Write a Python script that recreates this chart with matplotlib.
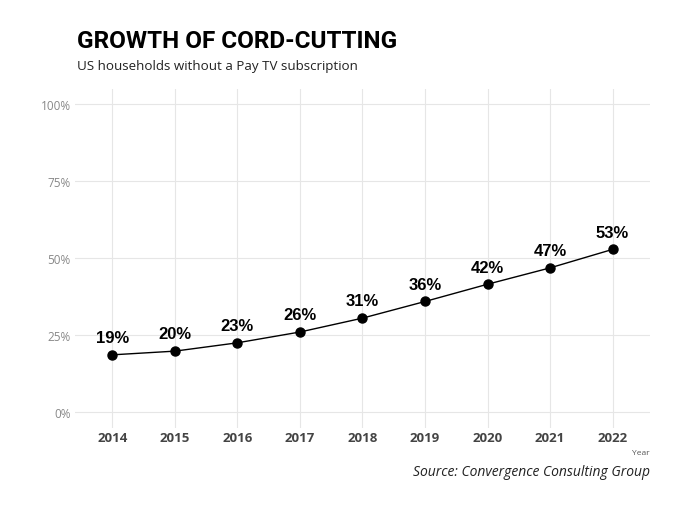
import matplotlib.pyplot as plt

# Data
years = [2014, 2015, 2016, 2017, 2018, 2019, 2020, 2021, 2022]
share = [18.7, 19.9, 22.6, 26.1, 30.6, 36.0, 41.6, 46.9, 52.9]
labels = ['19%', '20%', '23%', '26%', '31%', '36%', '42%', '47%', '53%']
y_ticks = [0, 25, 50, 75, 100]
y_tick_labels = ['0%', '25%', '50%', '75%', '100%']

fig = plt.figure(figsize=(6.8, 5.1), dpi=100)
ax = fig.add_axes([0.110, 0.159, 0.846, 0.665])

ax.plot(years, share, color='black', lw=1.0, marker='o', markersize=6.5, zorder=3)

for x, y, lab in zip(years, share, labels):
    ax.annotate(lab, (x, y), xytext=(0, 7), textcoords='offset points',
                ha='center', va='bottom', fontsize=12, fontweight='bold',
                family='Liberation Sans', color='black')

ax.set_xlim(2013.4, 2022.6)
ax.set_ylim(-5, 105)
ax.set_xticks(years)
ax.set_xticklabels([str(y) for y in years], fontsize=9.5, fontweight='bold',
                   family='Open Sans', color='#444444')
ax.set_yticks(y_ticks)
ax.set_yticklabels(y_tick_labels, fontsize=8.5, family='Open Sans', color='#888888')
ax.tick_params(length=0, pad=3)
ax.tick_params(axis='x', pad=2)
ax.grid(True, color='#e6e6e6', lw=0.8)
ax.set_axisbelow(True)
for s in ax.spines.values():
    s.set_visible(False)

# Titles and captions
fig.text(0.113, 0.905, 'GROWTH OF CORD-CUTTING', fontsize=17.5, fontweight='bold',
         family='Roboto', color='black', va='baseline')
fig.text(0.113, 0.862, 'US households without a Pay TV subscription', fontsize=9.6,
         family='Open Sans', color='#222222', va='baseline')
fig.text(0.956, 0.108, 'Year', fontsize=6, family='Open Sans', color='#555555',
         ha='right', va='baseline')
fig.text(0.956, 0.067, 'Source: Convergence Consulting Group', fontsize=10,
         family='Open Sans', style='italic', color='#222222', ha='right', va='baseline')

fig.savefig('out.png', dpi=100, facecolor='white')
